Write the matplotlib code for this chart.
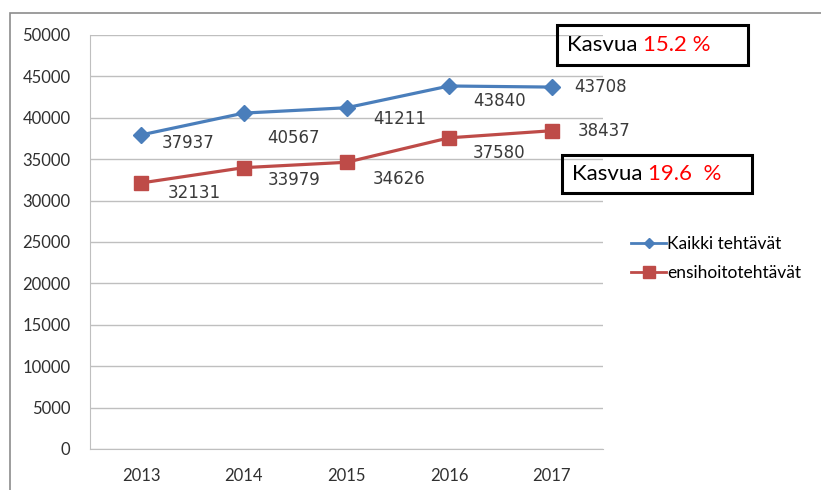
import matplotlib.pyplot as plt
from matplotlib.patches import Rectangle
from matplotlib.lines import Line2D

# data
years = ['2013', '2014', '2015', '2016', '2017']
kaikki = [37937, 40567, 41211, 43840, 43708]
ensihoito = [32131, 33979, 34626, 37580, 38437]
series_names = ['Kaikki tehtävät', 'ensihoitotehtävät']
growth = ['15.2 %', '19.6  %']

blue = '#4a7ebb'
red = '#be4b48'

fig = plt.figure(figsize=(8.21, 4.90), dpi=100)
ax = fig.add_axes([0.1096, 0.0837, 0.6249, 0.8449])

x = range(len(years))
ax.plot(x, kaikki, color=blue, lw=2.3, marker='D', ms=8, mec=blue, zorder=3)
ax.plot(x, ensihoito, color=red, lw=2.3, marker='s', ms=10, mec=red, zorder=3)

# data label offsets (points)
off_k = [(34, -6), (36, -18), (38, -8), (36, -11), (35, 0)]
off_e = [(38, -7), (36, -9), (38, -12), (36, -11), (38, 0)]
for i, v in enumerate(kaikki):
    ax.annotate(str(v), (i, v), xytext=off_k[i], textcoords='offset points',
                ha='center', va='center', fontsize=12, color='#3a3a3a')
for i, v in enumerate(ensihoito):
    ax.annotate(str(v), (i, v), xytext=off_e[i], textcoords='offset points',
                ha='center', va='center', fontsize=12, color='#3a3a3a')

ax.set_xlim(-0.5, len(years) - 0.5)
ax.set_ylim(0, 50000)
ax.set_yticks(range(0, 50001, 5000))
ax.set_xticks(list(x))
ax.set_xticklabels(years)
ax.grid(axis='y', color='#bfbfbf', lw=1)
ax.set_axisbelow(True)
for s in ['top', 'right']:
    ax.spines[s].set_visible(False)
ax.spines['left'].set_color('#bfbfbf')
ax.spines['bottom'].set_color('#bfbfbf')
ax.tick_params(length=0, labelsize=12, colors='#303030')
ax.tick_params(axis='x', pad=14)
ax.tick_params(axis='y', pad=14)
for lab in ax.get_xticklabels() + ax.get_yticklabels():
    lab.set_family('Lato')

# legend
handles = [Line2D([], [], color=blue, lw=2, marker='D', ms=5),
           Line2D([], [], color=red, lw=2, marker='s', ms=8)]
fig.legend(handles, series_names, loc='upper left', bbox_to_anchor=(0.75, 0.551),
           frameon=False, handlelength=2.0, handletextpad=0.05, labelspacing=0.75,
           prop={'family': 'Lato', 'size': 12.5})

# growth boxes
def growth_box(x0, y0, w, h, pct):
    fig.patches.append(Rectangle((x0, y0), w, h, transform=fig.transFigure,
                                 fill=False, ec='black', lw=2.2))
    t = fig.text(x0 + 10 / 821, y0 + h / 2, 'Kasvua ', fontsize=16,
                 family='Lato', va='center', ha='left')
    fig.canvas.draw()
    bb = t.get_window_extent().transformed(fig.transFigure.inverted())
    fig.text(bb.x1, y0 + h / 2, pct, fontsize=16, color='red',
             family='Lato', va='center', ha='left')

growth_box(557 / 821, 1 - 65 / 490, 191 / 821, 40 / 490, growth[0])
growth_box(562 / 821, 1 - 193 / 490, 190 / 821, 38 / 490, growth[1])

# outer chart frame
fig.patches.append(Rectangle((10 / 821, -0.01), 1.0, 1 - 13 / 490 + 0.01,
                             transform=fig.transFigure, fill=False,
                             ec='#8c8c8c', lw=1.2))

fig.savefig('out.png', dpi=100)
